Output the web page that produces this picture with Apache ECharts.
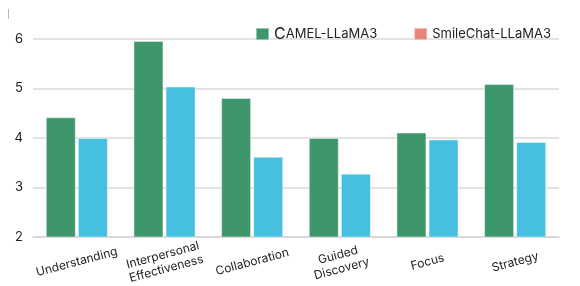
<!DOCTYPE html>
<html>
<head>
<meta charset="utf-8">
<script src="https://cdn.jsdelivr.net/npm/echarts@6/dist/echarts.min.js"></script>
<style>html,body{margin:0;padding:0;background:#fff;}#c{width:580px;height:286px;}</style>
</head>
<body>
<div id="c"></div>
<script>
const categories = ['Understanding', 'Interpersonal\nEffectiveness', 'Collaboration', 'Guided\nDiscovery', 'Focus', 'Strategy'];
const camelValues = [4.42, 5.96, 4.81, 4.00, 4.11, 5.09];
const smileValues = [4.00, 5.04, 3.62, 3.28, 3.97, 3.92];
const seriesNames = ['CAMEL-LLaMA3', 'SmileChat-LLaMA3'];
const yTicks = [2, 3, 4, 5, 6];

const chart = echarts.init(document.getElementById('c'), null, {renderer: 'canvas'});
const font = 'Inter, "Noto Sans", sans-serif';
chart.setOption({
  animation: false,
  textStyle: {fontFamily: font},
  graphic: [{type: 'line', shape: {x1: 8.5, y1: 9, x2: 8.5, y2: 19}, style: {stroke: '#b8b8b8', lineWidth: 1}}],
  legend: {
    right: 24, top: 21, itemWidth: 13, itemHeight: 12, itemGap: 36, icon: 'rect',
    data: [
      {name: seriesNames[0], itemStyle: {color: '#3d976b'}},
      {name: seriesNames[1], itemStyle: {color: '#e8857a'}}
    ],
    formatter: function (n) { return n === seriesNames[0] ? '{a|C}{b|AMEL-LLaMA3}' : '{b|' + n + '}'; },
    textStyle: {
      color: '#222', fontSize: 13, fontFamily: font,
      rich: {a: {fontSize: 16, color: '#222', fontFamily: font}, b: {fontSize: 13, color: '#222', fontFamily: font}}
    }
  },
  grid: {left: 33, right: 21, top: 39, bottom: 49, containLabel: false, outerBoundsMode: 'none'},
  xAxis: {
    type: 'category', data: categories,
    axisLine: {show: true, lineStyle: {color: '#d6d2d4', width: 1.5}},
    axisTick: {show: false},
    axisLabel: {rotate: 15, align: 'center', verticalAlign: 'middle', margin: 25, fontSize: 12, color: '#222', fontFamily: font, interval: 0, lineHeight: 14}
  },
  yAxis: {
    type: 'value', min: yTicks[0], max: yTicks[yTicks.length - 1], interval: 1,
    axisLine: {show: false}, axisTick: {show: false},
    axisLabel: {margin: 10, fontSize: 13, color: '#222', fontFamily: font},
    splitLine: {lineStyle: {color: '#dcd8da', width: 1.5}}
  },
  series: [
    {name: seriesNames[0], type: 'bar', data: camelValues, barWidth: 30, barGap: '7%',
     itemStyle: {color: '#3d976b', borderColor: 'rgba(255,255,255,0.45)', borderWidth: 1}},
    {name: seriesNames[1], type: 'bar', data: smileValues, barWidth: 30,
     itemStyle: {color: '#46bfe0', borderColor: 'rgba(255,255,255,0.45)', borderWidth: 1}}
  ]
});
</script>
</body>
</html>
